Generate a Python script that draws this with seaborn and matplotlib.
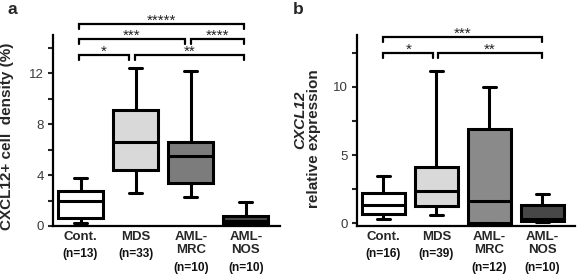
import pandas as pd
import matplotlib
matplotlib.use("Agg")
import matplotlib.pyplot as plt
import seaborn as sns

# group names and sample sizes
groups = ["Cont.", "MDS", "AML-MRC", "AML-NOS"]
group_labels = ["Cont.", "MDS", "AML-\nMRC", "AML-\nNOS"]
n_a = ["(n=13)", "(n=33)", "(n=10)", "(n=10)"]
n_b = ["(n=16)", "(n=39)", "(n=12)", "(n=10)"]

# five-number summaries: min, Q1, median, Q3, max
# panel a: CXCL12+ cell density (%)
cont_a = [0.24, 0.63, 1.94, 2.76, 3.78]
mds_a = [2.62, 4.38, 6.56, 9.11, 12.39]
mrc_a = [2.28, 3.41, 5.51, 6.56, 12.18]
nos_a = [0.02, 0.13, 0.39, 0.79, 1.92]

# panel b: CXCL12 relative expression
cont_b = [0.34, 0.71, 1.34, 2.24, 3.44]
mds_b = [0.59, 1.27, 2.37, 4.15, 11.15]
mrc_b = [0.0, 0.05, 1.63, 6.88, 10.0]
nos_b = [0.08, 0.17, 0.29, 1.32, 2.15]

# significance brackets: (start, end, level, stars)
brackets_a = [(-0.03, 2.97, 0, "*****"),
              (-0.03, 1.9, 1, "***"), (2.0, 2.97, 1, "****"),
              (-0.03, 0.88, 2, "*"), (0.99, 2.97, 2, "**")]
brackets_b = [(0.0, 3.0, 0, "***"),
              (0.0, 0.94, 1, "*"), (1.03, 3.0, 1, "**")]

palette = {"Cont.": "#ffffff", "MDS": "#d9d9d9", "AML-MRC": "#7c7c7c", "AML-NOS": "#4a4a4a"}
palette_b = {"Cont.": "#ffffff", "MDS": "#d9d9d9", "AML-MRC": "#8a8a8a", "AML-NOS": "#474747"}


def to_long(values):
    rows = []
    for g, vals in zip(groups, values):
        for v in vals:
            rows.append({"group": g, "value": v})
    return pd.DataFrame(rows)


df_a = to_long([cont_a, mds_a, mrc_a, nos_a])
df_b = to_long([cont_b, mds_b, mrc_b, nos_b])

sns.set_style("ticks")
plt.rcParams["font.family"] = ["Liberation Sans", "DejaVu Sans"]

W, H = 577, 274
fig = plt.figure(figsize=(W / 100, H / 100), dpi=100)
ax_a = fig.add_axes([53 / W, (H - 226) / H, 227 / W, 191 / H])
ax_b = fig.add_axes([357 / W, (H - 226) / H, 218 / W, 191 / H])


def draw_panel(ax, df, pal, ylim, major, minor, n_labels):
    sns.boxplot(data=df, x="group", y="value", hue="group", palette=pal,
                order=groups, hue_order=groups, legend=False, saturation=1,
                whis=(0, 100), width=0.82, linewidth=2.2, linecolor="black",
                showfliers=False, capwidths=0.24, ax=ax)
    ax.set_ylim(*ylim)
    ax.set_xlim(-0.5, 3.62)
    ax.set_yticks(major)
    ax.set_yticks(minor, minor=True)
    ax.tick_params(axis="y", which="both", direction="out", length=3.5,
                   width=1.5, labelsize=9.5, labelcolor="#3a3a3a", pad=3)
    ax.tick_params(axis="x", length=0, pad=3.5)
    ax.set_xticks(range(len(groups)))
    ax.set_xticklabels(group_labels, fontsize=9.5, fontweight="bold",
                       linespacing=1.1, va="top")
    for s in ["top", "right"]:
        ax.spines[s].set_visible(False)
    for s in ["left", "bottom"]:
        ax.spines[s].set_linewidth(1.6)
        ax.spines[s].set_color("black")
    ax.set_xlabel("")
    ax.set_ylabel("")
    for i, lab in enumerate(n_labels):
        off = -20 if i < 2 else -30.5
        ax.annotate(lab, xy=(i, 0), xycoords=("data", "axes fraction"),
                    xytext=(0, off), textcoords="offset points",
                    ha="center", va="center", fontsize=8.6, fontweight="bold",
                    color="#111111")


def draw_brackets(ax, brackets, levels, tick, lift):
    for x0, x1, lev, txt in brackets:
        y = levels[lev]
        ax.plot([x0, x0, x1, x1], [y - tick, y, y, y - tick], color="black",
                lw=1.6, clip_on=False, solid_joinstyle="miter")
        ax.text((x0 + x1) / 2, y + lift, txt, ha="center", va="center",
                fontsize=11, color="#222222", clip_on=False)


draw_panel(ax_a, df_a, palette, (0, 15), [0, 4, 8, 12], [2, 6, 10, 14], n_a)
draw_panel(ax_b, df_b, palette_b, (-0.2, 13.8), [0, 5, 10], [2.5, 7.5, 12.5], n_b)

draw_brackets(ax_a, brackets_a, [15.88, 14.7, 13.44], 0.4, 0.24)
draw_brackets(ax_b, brackets_b, [13.68, 12.5], 0.37, 0.22)

# axis titles
fig.text(7 / W, 1 - 136 / H, "CXCL12+ cell  density (%)", rotation=90,
         ha="center", va="center", fontsize=11, fontweight="bold")
fig.text(300 / W, 1 - 120 / H, "CXCL12", rotation=90, ha="center", va="center",
         fontsize=11, fontweight="bold", fontstyle="italic")
fig.text(314 / W, 1 - 139 / H, "relative expression", rotation=90,
         ha="center", va="center", fontsize=11, fontweight="bold")

# panel letters
fig.text(12 / W, 1 - 10 / H, "a", ha="center", va="center", fontsize=12.5, fontweight="bold")
fig.text(298 / W, 1 - 10 / H, "b", ha="center", va="center", fontsize=12.5, fontweight="bold")

fig.savefig("out.png", dpi=100)
